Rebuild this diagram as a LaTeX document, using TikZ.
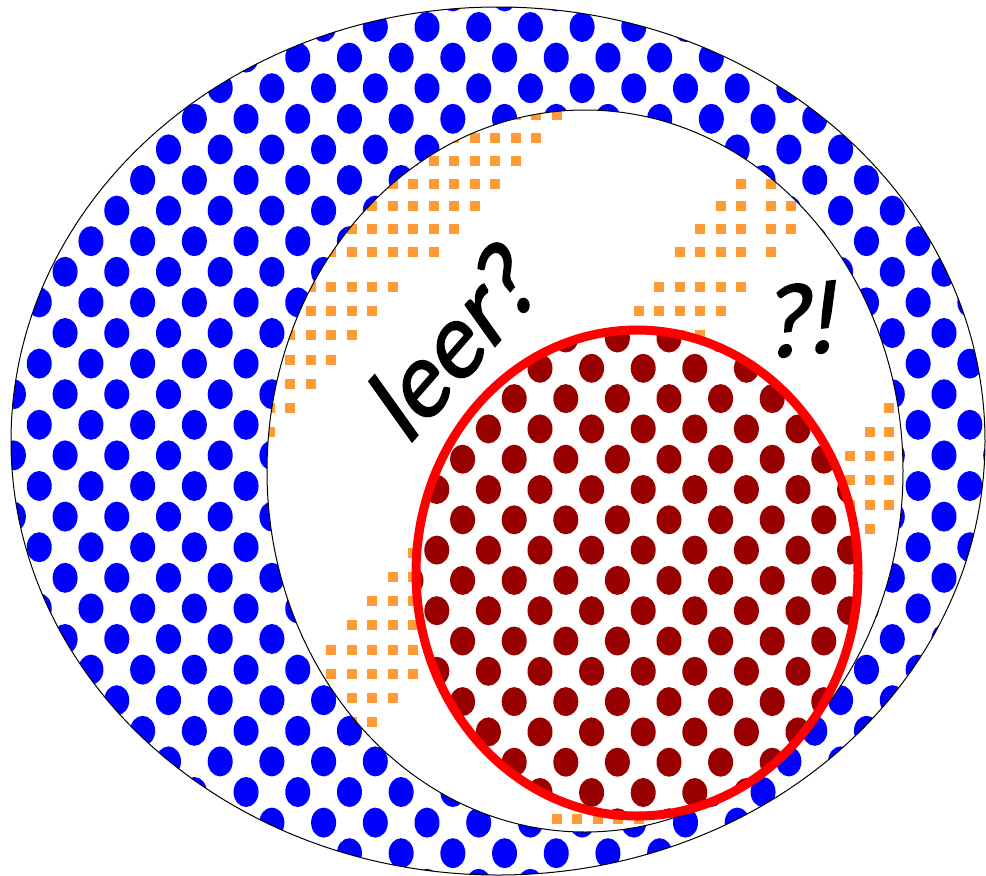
\documentclass[tikz,border=0pt]{standalone}
\usepackage{fontspec}
\newfontfamily\handfont{Lato}[FakeSlant=0.24,FakeBold=1.6]
\definecolor{dotblue}{RGB}{0,0,255}
\definecolor{dotred}{RGB}{153,0,0}
\definecolor{sqorange}{RGB}{255,155,55}
\definecolor{ringred}{RGB}{255,0,0}
\tikzset{
  thinborder/.style={draw=black, line width=1pt},
  redring/.style={draw=ringred, line width=9pt},
  handtext/.style={font=\handfont\fontsize{98}{100}\selectfont, text=black, inner sep=0pt},
}
\begin{document}
\begin{tikzpicture}[x=1pt,y=-1pt]
\fill[white] (0,0) rectangle (986,876);
\useasboundingbox (0,0) rectangle (986,876);
% outer ring with blue dots
\begin{scope}
  \clip (498,441) ellipse [x radius=487pt, y radius=434pt];
  \foreach \j in {0,...,29} {
    \foreach \i in {0,...,20} {
      \fill[dotblue] ({-38.3+51.7*\i-25.85*(1-mod(\j,2))}, {-3.6+30.6*\j}) ellipse [x radius=12.5pt, y radius=15pt];
    }
  }
\end{scope}
% inner white region with orange squares
\fill[white] (585,471) ellipse [x radius=318pt, y radius=361pt];
\begin{scope}
  \clip (585,471) ellipse [x radius=318pt, y radius=361pt];
  \foreach \yy in {115.2,138,160.8,183.6,206.4,229.2,252,287,311.17,335.34,359.51,383.68,407.85,432.02,456.19,480.36,504.53,528.7,552.87,577.04,601.21,625.38,649.55,673.72,697.89,722.06,746.23,770.4,794.57,818.74} {
    \foreach \xx in {249,269.5,290,310.5,331,351.5,372,392.5,413,433.5,454,474.5,495,515.5,536,556.5,577,597.5,618,638.5,659,679.5,700,720.5,741,771,790.7,810.4,830.1,849.8,869.5,889.2,908.9} {
      \pgfmathsetmacro\uu{\xx+0.85*\yy}
      \pgfmathtruncatemacro\inband{or(or(and(\uu>537,\uu<656),and(\uu>882.7,\uu<995)),and(\uu>1234,\uu<1336))}
      \ifnum\inband=1
        \fill[sqorange] (\xx-5,\yy-5) rectangle (\xx+5,\yy+5);
      \fi
    }
  }
\end{scope}
\draw[thinborder] (498,441) ellipse [x radius=487pt, y radius=434pt];
\draw[thinborder] (585,471) ellipse [x radius=318pt, y radius=361pt];
% red ellipse with dark red dots
\fill[white] (637,573) ellipse [x radius=221pt, y radius=243pt];
\begin{scope}
  \clip (637,573) ellipse [x radius=221pt, y radius=243pt];
  \foreach \j in {0,...,17} {
    \foreach \i in {0,...,10} {
      \fill[dotred] ({385.2+51.6*\i-25.8*mod(\j,2)}, {307.7+30.3*\j}) ellipse [x radius=12.5pt, y radius=14.5pt];
    }
  }
\end{scope}
\draw[redring] (637,573) ellipse [x radius=221pt, y radius=243pt];
% texts
\node[handtext, rotate=49] (leer) at (448,346) {leer?};
\node[handtext, rotate=6] (qe) at (796,320) {?!};
\end{tikzpicture}
\end{document}
